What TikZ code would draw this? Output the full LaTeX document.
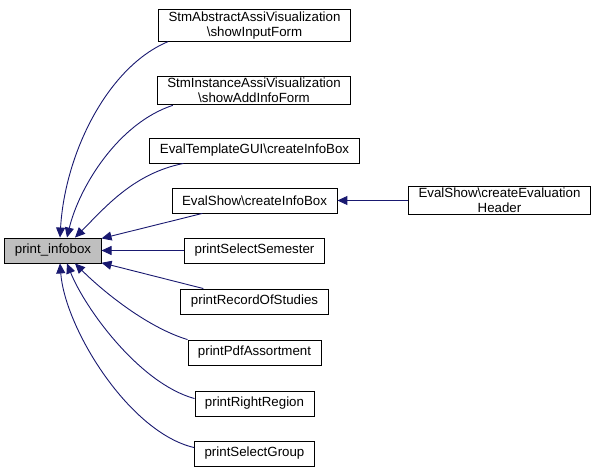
\documentclass[tikz,border=0pt]{standalone}
\usepackage{fontspec}
\setmainfont{Liberation Sans}
\usepackage{tikz}
\usetikzlibrary{arrows.meta}

\definecolor{midnightblue}{RGB}{25,25,112}

\begin{document}
\begin{tikzpicture}[
            x=1pt, y=-1pt,
            box/.style={draw=black, line width=0.9pt, inner xsep=10pt, inner ysep=2pt,
                        minimum height=25pt, align=center,
                        font=\fontsize{13.3}{15}\selectfont},
            root/.style={box, fill=black!25},
            edge/.style={midnightblue, line width=0.9pt,
                         -{Triangle[length=10pt, width=9pt]}}
        ]
        \useasboundingbox (0,0) rectangle (596,473);

        % Nodes
        \node[root] (infobox) at (53,250.5) {print\_infobox};
        \node[box] (absviz) at (254.5,25.5) {StmAbstractAssiVisualization\\\textbackslash showInputForm};
        \node[box] (instviz) at (254,90.5) {StmInstanceAssiVisualization\\\textbackslash showAddInfoForm};
        \node[box] (templgui) at (254.5,150.5) {EvalTemplateGUI\textbackslash createInfoBox};
        \node[box] (showbox) at (254.5,200.5) {EvalShow\textbackslash createInfoBox};
        \node[box] (evalheader) at (499.5,200.5) {EvalShow\textbackslash createEvaluation\\Header};
        \node[box] (semester) at (254.5,250.5) {printSelectSemester};
        \node[box] (studies) at (254.5,301.5) {printRecordOfStudies};
        \node[box] (pdfassort) at (254.5,352.5) {printPdfAssortment};
        \node[box] (rightreg) at (254.5,403.5) {printRightRegion};
        \node[box] (selgroup) at (254.5,453.5) {printSelectGroup};

        % Curved calls from above
        \draw[edge] ([xshift=10]absviz.south west)
            .. controls +(-60,25) and +(5,-85) .. ([xshift=7]infobox.north);
        \draw[edge] ([xshift=16]instviz.south west)
            .. controls +(-55,18) and +(12,-50) .. ([xshift=14]infobox.north);
        \draw[edge] ([xshift=34]templgui.south west)
            .. controls +(-50,10) and +(30,-30) .. ([xshift=22]infobox.north);

        % Straight calls
        \draw[edge] (showbox) -- (infobox);
        \draw[edge] (evalheader) -- (showbox);
        \draw[edge] (semester) -- (infobox);
        \draw[edge] (studies) -- (infobox);

        % Curved calls from below
        \draw[edge] (pdfassort.north west)
            .. controls +(-40,-12) and +(28,28) .. ([xshift=22]infobox.south);
        \draw[edge] ([yshift=-8]rightreg.north west)
            .. controls +(-55,-15) and +(18,45) .. ([xshift=14]infobox.south);
        \draw[edge] ([yshift=-7]selgroup.north west)
            .. controls +(-65,-15) and +(5,65) .. ([xshift=7]infobox.south);

\end{tikzpicture}
\end{document}
